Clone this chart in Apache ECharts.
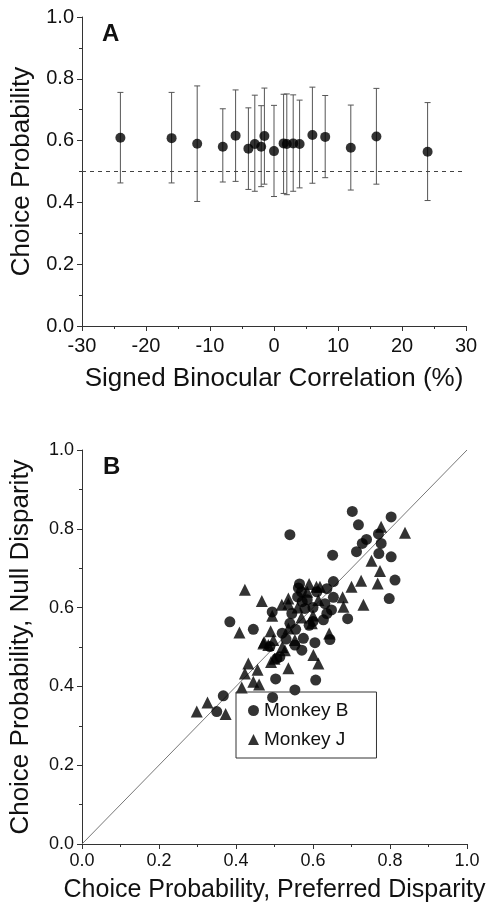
<!DOCTYPE html>
<html>
<head>
<meta charset="utf-8">
<script src="https://cdn.jsdelivr.net/npm/echarts@6/dist/echarts.min.js"></script>
<style>
  html, body { margin: 0; padding: 0; background: #fff; }
  #chart { width: 490px; height: 907px; }
</style>
</head>
<body>
<div id="chart"></div>
<script>
// panel A: choice probability vs signed binocular correlation
const corrX  = [-24, -16, -12, -8, -6, -4, -3, -2, -1.5, 0, 1.5, 2, 3, 4, 6, 8, 12, 16, 24];
const cpMean = [0.609, 0.608, 0.590, 0.580, 0.616, 0.574, 0.589, 0.580, 0.615, 0.566, 0.591, 0.589, 0.591, 0.589, 0.618, 0.612, 0.577, 0.613, 0.564];
const cpLow  = [0.463, 0.463, 0.403, 0.466, 0.468, 0.442, 0.436, 0.451, 0.459, 0.419, 0.429, 0.425, 0.436, 0.447, 0.462, 0.480, 0.440, 0.459, 0.406];
const cpHigh = [0.756, 0.756, 0.777, 0.703, 0.764, 0.706, 0.747, 0.713, 0.770, 0.714, 0.750, 0.751, 0.748, 0.731, 0.773, 0.746, 0.715, 0.769, 0.723];
const chanceLevel = 0.5;

// panel B: preferred vs null disparity CP, per monkey
const monkeyB = [
  [0.540, 0.785], [0.702, 0.844], [0.803, 0.830], [0.718, 0.810], [0.770, 0.787],
  [0.739, 0.773], [0.728, 0.763], [0.777, 0.763], [0.651, 0.733], [0.713, 0.742],
  [0.771, 0.737], [0.803, 0.729], [0.384, 0.564], [0.445, 0.545], [0.562, 0.650],
  [0.560, 0.627], [0.494, 0.589], [0.553, 0.505], [0.813, 0.670], [0.653, 0.666],
  [0.636, 0.648], [0.798, 0.623], [0.653, 0.626], [0.631, 0.610], [0.648, 0.594],
  [0.636, 0.585], [0.579, 0.598], [0.690, 0.572], [0.627, 0.569], [0.644, 0.519],
  [0.605, 0.511], [0.575, 0.522], [0.503, 0.419], [0.553, 0.391], [0.367, 0.376],
  [0.495, 0.372], [0.350, 0.336], [0.607, 0.416], [0.571, 0.492], [0.488, 0.501],
  [0.514, 0.475], [0.506, 0.471], [0.570, 0.640], [0.572, 0.615], [0.540, 0.560],
  [0.555, 0.545], [0.600, 0.600], [0.590, 0.555], [0.520, 0.535], [0.610, 0.640],
  [0.565, 0.660], [0.585, 0.620], [0.600, 0.565], [0.545, 0.585], [0.530, 0.520]
];
const monkeyJ = [
  [0.777, 0.805], [0.839, 0.790], [0.752, 0.719], [0.774, 0.693], [0.423, 0.645],
  [0.467, 0.617], [0.409, 0.537], [0.490, 0.540], [0.536, 0.547], [0.519, 0.607],
  [0.536, 0.610], [0.494, 0.579], [0.473, 0.513], [0.497, 0.518], [0.484, 0.505],
  [0.553, 0.518], [0.725, 0.668], [0.768, 0.661], [0.700, 0.653], [0.618, 0.653],
  [0.677, 0.626], [0.731, 0.607], [0.614, 0.619], [0.679, 0.602], [0.597, 0.560],
  [0.642, 0.534], [0.432, 0.458], [0.456, 0.442], [0.423, 0.433], [0.536, 0.446],
  [0.491, 0.462], [0.445, 0.412], [0.460, 0.405], [0.415, 0.397], [0.326, 0.359],
  [0.298, 0.336], [0.373, 0.330], [0.601, 0.480], [0.614, 0.458], [0.609, 0.653],
  [0.536, 0.623], [0.527, 0.492], [0.471, 0.509], [0.560, 0.600], [0.585, 0.640],
  [0.500, 0.470], [0.520, 0.500], [0.600, 0.580], [0.570, 0.575], [0.590, 0.660]
];
const unityLine = [[0, 0], [1, 1]];

const font = 'Arial, "Liberation Sans", sans-serif';
const ink = '#111';

const errData = corrX.map((x, i) => [x, cpLow[i], cpHigh[i]]);
const meanData = corrX.map((x, i) => [x, cpMean[i]]);
const oneDecimal = v => v.toFixed(1);

function axisBase(extra, labelSize, titleSize) {
  return Object.assign({
    axisLine: { show: true, onZero: false, lineStyle: { color: '#333', width: 1 } },
    axisTick: { show: true, length: 5, lineStyle: { color: '#333' } },
    minorTick: { show: true, splitNumber: 2, length: 3, lineStyle: { color: '#333' } },
    splitLine: { show: false },
    axisLabel: { color: ink, fontSize: labelSize, fontFamily: font },
    nameTextStyle: { color: ink, fontSize: titleSize, fontFamily: font }
  }, extra);
}

const chart = echarts.init(document.getElementById('chart'), null, { renderer: 'canvas' });

chart.setOption({
  animation: false,
  backgroundColor: '#fff',
  textStyle: { fontFamily: font },
  title: [
    { text: 'A', left: 97, top: 17, textStyle: { fontSize: 24, fontWeight: 'bold', color: ink, fontFamily: font } },
    { text: 'B', left: 98, top: 450, textStyle: { fontSize: 24, fontWeight: 'bold', color: ink, fontFamily: font } }
  ],
  grid: [
    { left: 82, top: 17, width: 384, height: 309 },
    { left: 82, top: 450, width: 385, height: 394 }
  ],
  xAxis: [
    axisBase({
      gridIndex: 0, type: 'value', min: -30, max: 30, interval: 10,
      axisLabel: { color: ink, fontSize: 20, fontFamily: font, margin: 10 },
      name: 'Signed Binocular Correlation (%)', nameLocation: 'middle', nameGap: 40
    }, 20, 26),
    axisBase({
      gridIndex: 1, type: 'value', min: 0, max: 1, interval: 0.2,
      axisLabel: { color: ink, fontSize: 18, fontFamily: font, margin: 8, formatter: oneDecimal },
      name: 'Choice Probability, Preferred Disparity', nameLocation: 'middle', nameGap: 34
    }, 18, 25)
  ],
  yAxis: [
    axisBase({
      gridIndex: 0, type: 'value', min: 0, max: 1, interval: 0.2,
      axisLabel: { color: ink, fontSize: 20, fontFamily: font, formatter: oneDecimal },
      name: 'Choice Probability', nameLocation: 'middle', nameGap: 46
    }, 20, 26),
    axisBase({
      gridIndex: 1, type: 'value', min: 0, max: 1, interval: 0.2,
      axisLabel: { color: ink, fontSize: 18, fontFamily: font, formatter: oneDecimal },
      name: 'Choice Probability, Null Disparity', nameLocation: 'middle', nameGap: 48
    }, 18, 26)
  ],
  legend: {
    orient: 'vertical',
    left: 236, top: 692,
    padding: [9, 28, 9, 12],
    itemGap: 10,
    itemWidth: 11, itemHeight: 11,
    borderColor: '#333', borderWidth: 1,
    textStyle: { color: ink, fontSize: 19, fontFamily: font },
    data: [
      { name: 'Monkey B', icon: 'circle' },
      { name: 'Monkey J', icon: 'triangle' }
    ]
  },
  series: [
    {
      type: 'custom',
      xAxisIndex: 0, yAxisIndex: 0,
      data: errData,
      z: 1,
      renderItem: function (params, api) {
        const top = api.coord([api.value(0), api.value(2)]);
        const bot = api.coord([api.value(0), api.value(1)]);
        const cap = 3;
        const style = { stroke: '#555', lineWidth: 1 };
        return {
          type: 'group',
          children: [
            { type: 'line', shape: { x1: top[0], y1: top[1], x2: bot[0], y2: bot[1] }, style: style },
            { type: 'line', shape: { x1: top[0] - cap, y1: top[1], x2: top[0] + cap, y2: top[1] }, style: style },
            { type: 'line', shape: { x1: bot[0] - cap, y1: bot[1], x2: bot[0] + cap, y2: bot[1] }, style: style }
          ]
        };
      }
    },
    {
      type: 'scatter',
      xAxisIndex: 0, yAxisIndex: 0,
      data: meanData,
      symbol: 'circle', symbolSize: 10,
      itemStyle: { color: '#000' },
      z: 3,
      markLine: {
        silent: true, symbol: 'none', label: { show: false },
        lineStyle: { color: '#444', type: [4, 4], width: 1 },
        data: [{ yAxis: chanceLevel }]
      }
    },
    {
      type: 'line',
      xAxisIndex: 1, yAxisIndex: 1,
      data: unityLine,
      showSymbol: false,
      lineStyle: { color: '#777', width: 1 },
      z: 1
    },
    {
      name: 'Monkey B',
      type: 'scatter',
      xAxisIndex: 1, yAxisIndex: 1,
      data: monkeyB,
      symbol: 'circle', symbolSize: 11,
      itemStyle: { color: '#000' },
      z: 3
    },
    {
      name: 'Monkey J',
      type: 'scatter',
      xAxisIndex: 1, yAxisIndex: 1,
      data: monkeyJ,
      symbol: 'triangle', symbolSize: 12,
      itemStyle: { color: '#000' },
      z: 3
    }
  ]
});
</script>
</body>
</html>
